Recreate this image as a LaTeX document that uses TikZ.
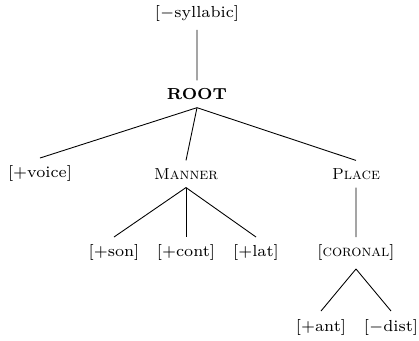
\documentclass[tikz,border=0pt]{standalone}
\usetikzlibrary{positioning}

\begin{document}
\begin{tikzpicture}[
   x=0.02cm, y=-0.02cm,
   feat/.style={
     font=\fontsize{7}{8.4}\selectfont,
     scale=1.3,
     transform shape,
     inner sep=1pt,
     outer sep=2.5pt,
    },
   branch/.style={
     draw=black,
     line width=0.5pt,
    },
  ]

\useasboundingbox (0,0) rectangle (419,341);

\node[feat] (syl) at (197,14) {$[-$syllabic$]$};
\node[feat] (root) at (197,94) {\textbf{ROOT}};
\node[feat] (voice) at (40,174) {[$+$voice]};
\node[feat] (manner) at (186,174) {\textsc{Manner}};
\node[feat] (place) at (356,174) {\textsc{Place}};
\node[feat] (son) at (114,253) {[$+$son]};
\node[feat] (cont) at (186,253) {[$+$cont]};
\node[feat] (lat) at (256,253) {[$+$lat]};
\node[feat] (cor) at (356,253) {[\textsc{coronal}]};
\node[feat] (ant) at (321,327) {[$+$ant]};
\node[feat] (dist) at (391,327) {[$-$dist]};
\draw[branch] (syl) -- (root);
\draw[branch] (root.south) -- (voice.north);
\draw[branch] (root.south) -- (manner.north);
\draw[branch] (root.south) -- (place.north);
\draw[branch] (manner.south) -- (son.north);
\draw[branch] (manner.south) -- (cont.north);
\draw[branch] (manner.south) -- (lat.north);
\draw[branch] (place) -- (cor);
\draw[branch] (cor.south) -- (ant.north);
\draw[branch] (cor.south) -- (dist.north);
\end{tikzpicture}
\end{document}
